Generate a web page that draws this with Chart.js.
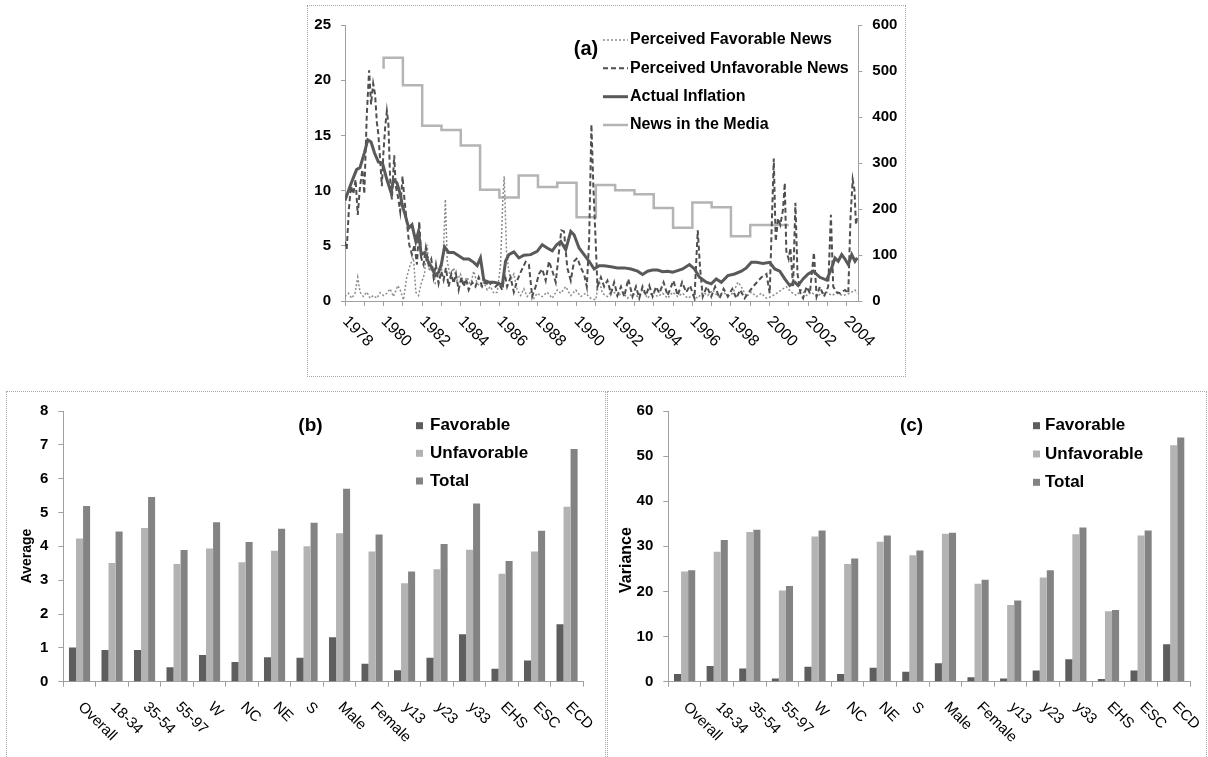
<!DOCTYPE html>
<html><head><meta charset="utf-8">
<script src="https://cdn.jsdelivr.net/npm/chart.js@4.4.1/dist/chart.umd.min.js"></script>
<style>
html,body{margin:0;padding:0;background:#fff;}
body{width:1208px;height:757px;position:relative;overflow:hidden;}
.box{position:absolute;border:1px dotted #a6a6a6;box-sizing:border-box;}
canvas{position:absolute;}
</style></head><body>
<div class="box" style="left:307px;top:5px;width:599px;height:372px"></div>
<div class="box" style="left:6px;top:391px;width:600px;height:372px"></div>
<div class="box" style="left:607px;top:391px;width:600px;height:372px"></div>
<canvas id="ca" width="597" height="370" style="left:308px;top:6px;width:597px;height:370px"></canvas>
<canvas id="cb" width="598" height="365" style="left:7px;top:392px;width:598px;height:365px"></canvas>
<canvas id="cc" width="598" height="365" style="left:608px;top:392px;width:598px;height:365px"></canvas>
<script>
// ---------------- Panel (a): time series [year, value] ----------------
const seriesNamesA = ['Perceived Favorable News','Perceived Unfavorable News','Actual Inflation','News in the Media'];
const yearLabelsA = [1978,1980,1982,1984,1986,1988,1990,1992,1994,1996,1998,2000,2002,2004];

const favorableNews = [[1978.00,0.4],[1978.17,0.7],[1978.35,0.25],[1978.52,0.7],[1978.66,2.15],[1978.78,0.8],[1978.95,0.4],[1979.13,0.8],[1979.30,0.25],[1979.47,0.5],[1979.65,0.25],[1979.82,0.75],[1979.99,0.5],[1980.17,0.7],[1980.34,1.1],[1980.51,0.4],[1980.74,1.4],[1980.86,1.0],[1981.03,0.1],[1981.20,2.15],[1981.38,3.3],[1981.55,3.9],[1981.67,0.8],[1981.81,0.5],[1981.95,1.6],[1982.12,2.45],[1982.25,5.1],[1982.37,2.7],[1982.50,3.3],[1982.68,1.6],[1982.85,1.85],[1982.99,2.45],[1983.10,4.5],[1983.20,9.2],[1983.30,3.6],[1983.46,2.15],[1983.63,3.0],[1983.80,1.85],[1983.98,2.45],[1984.15,1.7],[1984.33,2.15],[1984.50,1.4],[1984.67,2.7],[1984.85,1.6],[1985.02,1.3],[1985.19,1.7],[1985.37,1.0],[1985.54,1.3],[1985.71,0.7],[1985.89,0.8],[1986.06,3.3],[1986.18,9.2],[1986.25,11.3],[1986.37,4.5],[1986.47,3.0],[1986.58,1.85],[1986.75,2.45],[1986.92,1.0],[1987.10,0.5],[1987.27,1.1],[1987.44,0.4],[1987.62,0.8],[1987.79,0.25],[1987.96,0.7],[1988.22,0.4],[1988.48,0.8],[1988.74,0.25],[1989.00,1.0],[1989.18,0.7],[1989.44,1.3],[1989.70,0.5],[1989.96,1.0],[1990.22,0.4],[1990.47,0.7],[1990.73,0.25],[1990.99,0.1],[1991.17,1.85],[1991.34,0.7],[1991.60,0.4],[1991.86,1.0],[1992.12,0.4],[1992.38,0.8],[1992.64,0.25],[1992.90,0.7],[1993.16,0.4],[1993.42,1.0],[1993.68,0.25],[1993.94,0.8],[1994.20,0.4],[1994.46,0.7],[1994.72,0.25],[1994.98,0.8],[1995.24,0.4],[1995.50,0.7],[1995.76,0.25],[1996.02,0.5],[1996.28,0.25],[1996.54,0.8],[1996.80,0.5],[1997.06,1.0],[1997.32,0.4],[1997.58,0.8],[1997.84,0.5],[1998.10,0.7],[1998.36,1.7],[1998.54,1.3],[1998.80,0.4],[1999.06,0.8],[1999.32,0.4],[1999.58,0.7],[1999.84,0.25],[2000.10,0.4],[2000.36,0.7],[2000.62,1.0],[2000.87,1.3],[2001.13,0.8],[2001.39,0.5],[2001.65,1.0],[2001.92,0.5],[2002.18,0.8],[2002.44,0.4],[2002.70,0.7],[2002.96,0.8],[2003.22,0.5],[2003.48,0.7],[2003.82,0.5],[2004.17,0.7],[2004.43,1.0],[2004.55,0.7]];

const unfavorableNews = [[1978.00,5.4],[1978.09,4.7],[1978.20,8.3],[1978.31,10.4],[1978.43,9.7],[1978.55,11.0],[1978.66,7.8],[1978.78,10.4],[1978.90,11.9],[1979.00,9.7],[1979.13,16.9],[1979.25,20.9],[1979.35,17.8],[1979.46,19.7],[1979.56,18.7],[1979.65,16.2],[1979.73,15.1],[1979.82,12.8],[1979.91,10.4],[1979.99,13.4],[1980.08,15.7],[1980.17,17.2],[1980.25,16.0],[1980.34,11.0],[1980.43,9.2],[1980.55,13.2],[1980.63,10.4],[1980.74,9.5],[1980.86,8.1],[1980.98,11.3],[1981.08,9.2],[1981.20,7.2],[1981.33,5.1],[1981.47,4.2],[1981.60,5.1],[1981.73,3.3],[1981.85,7.2],[1981.95,3.9],[1982.07,3.3],[1982.19,4.8],[1982.33,3.3],[1982.47,3.8],[1982.59,2.15],[1982.71,3.3],[1982.85,1.6],[1982.99,2.7],[1983.11,1.9],[1983.23,3.0],[1983.37,1.3],[1983.51,2.45],[1983.63,1.6],[1983.75,2.45],[1983.89,1.0],[1984.03,2.15],[1984.15,1.3],[1984.27,2.0],[1984.41,1.0],[1984.59,1.7],[1984.76,1.3],[1984.93,2.15],[1985.11,1.3],[1985.28,1.7],[1985.45,1.4],[1985.63,1.7],[1985.80,1.3],[1985.97,1.6],[1986.15,1.0],[1986.28,2.45],[1986.40,1.3],[1986.58,2.15],[1986.75,0.8],[1986.92,1.85],[1987.10,2.6],[1987.36,3.55],[1987.53,3.3],[1987.70,0.4],[1987.88,1.3],[1988.05,2.45],[1988.22,2.9],[1988.40,1.85],[1988.57,3.6],[1988.74,2.75],[1988.92,1.7],[1989.09,4.5],[1989.21,6.4],[1989.35,6.3],[1989.52,3.0],[1989.70,1.85],[1989.87,3.6],[1990.04,3.9],[1990.22,3.0],[1990.39,2.45],[1990.53,1.3],[1990.65,5.4],[1990.77,16.0],[1990.87,10.4],[1990.99,5.4],[1991.08,1.3],[1991.26,2.15],[1991.43,1.3],[1991.60,1.85],[1991.78,0.7],[1991.95,1.7],[1992.12,0.5],[1992.30,1.3],[1992.47,0.4],[1992.68,2.0],[1992.90,0.4],[1993.08,1.3],[1993.25,0.25],[1993.42,1.3],[1993.60,0.5],[1993.77,1.4],[1993.94,0.4],[1994.12,1.3],[1994.29,0.7],[1994.51,1.7],[1994.72,0.5],[1994.90,1.3],[1995.02,1.85],[1995.24,0.5],[1995.47,1.7],[1995.68,0.8],[1995.88,1.4],[1996.11,0.25],[1996.28,6.4],[1996.40,3.0],[1996.54,0.4],[1996.75,1.3],[1996.98,0.4],[1997.18,1.3],[1997.41,0.25],[1997.62,1.1],[1997.84,0.4],[1998.07,1.1],[1998.28,0.25],[1998.48,1.0],[1998.71,0.25],[1998.93,0.8],[1999.14,1.3],[1999.35,1.7],[1999.58,2.15],[1999.84,2.45],[2000.01,0.7],[2000.10,6.0],[2000.22,12.9],[2000.32,5.4],[2000.44,7.5],[2000.56,6.9],[2000.70,8.3],[2000.79,10.7],[2000.87,4.5],[2000.99,3.8],[2001.08,4.8],[2001.22,1.3],[2001.34,8.9],[2001.45,2.45],[2001.60,0.7],[2001.74,0.25],[2001.92,1.3],[2002.09,0.7],[2002.30,4.4],[2002.44,0.4],[2002.61,1.3],[2002.82,0.4],[2003.04,1.3],[2003.18,7.8],[2003.30,1.3],[2003.48,0.8],[2003.65,0.7],[2003.91,1.0],[2004.08,0.7],[2004.20,7.75],[2004.31,11.0],[2004.40,10.1],[2004.48,6.9],[2004.55,7.75]];

const actualInflation = [[1978.00,9.1],[1978.26,10.4],[1978.43,11.15],[1978.60,11.9],[1978.78,12.1],[1979.00,13.4],[1979.18,14.6],[1979.35,14.4],[1979.53,13.4],[1979.73,12.6],[1979.94,12.5],[1980.17,11.0],[1980.39,9.8],[1980.51,11.0],[1980.69,10.7],[1980.86,9.7],[1980.98,8.6],[1981.12,7.8],[1981.30,6.6],[1981.47,6.9],[1981.67,5.4],[1981.81,6.3],[1981.95,4.2],[1982.12,4.4],[1982.30,3.6],[1982.50,3.0],[1982.68,2.3],[1982.85,2.6],[1982.99,3.3],[1983.16,4.9],[1983.37,4.4],[1983.63,4.4],[1983.89,4.1],[1984.15,3.8],[1984.41,3.8],[1984.67,3.5],[1984.85,3.2],[1985.02,3.9],[1985.19,1.9],[1985.45,1.7],[1985.71,1.7],[1985.97,1.6],[1986.15,1.4],[1986.32,3.6],[1986.49,4.2],[1986.75,4.45],[1987.01,3.9],[1987.27,4.15],[1987.62,4.2],[1987.96,4.5],[1988.22,5.1],[1988.48,4.8],[1988.74,4.55],[1988.97,5.1],[1989.18,5.4],[1989.44,4.65],[1989.70,6.3],[1989.87,6.0],[1990.13,4.8],[1990.39,4.2],[1990.65,3.6],[1990.91,2.9],[1991.17,3.2],[1991.43,3.2],[1991.78,3.1],[1992.12,3.0],[1992.47,3.0],[1992.82,2.9],[1993.16,2.7],[1993.42,2.4],[1993.68,2.7],[1993.94,2.8],[1994.20,2.8],[1994.46,2.65],[1994.72,2.7],[1994.98,2.6],[1995.16,2.7],[1995.50,2.9],[1995.85,3.3],[1996.11,2.9],[1996.37,2.15],[1996.72,1.7],[1996.98,1.55],[1997.24,2.0],[1997.50,1.7],[1997.84,2.3],[1998.19,2.45],[1998.54,2.7],[1998.80,3.0],[1999.06,3.5],[1999.32,3.5],[1999.66,3.4],[2000.01,3.5],[2000.27,2.9],[2000.53,2.7],[2000.79,2.0],[2001.05,1.4],[2001.31,1.7],[2001.48,1.4],[2001.74,2.0],[2002.00,2.45],[2002.26,2.7],[2002.61,2.15],[2002.96,1.9],[2003.22,3.0],[2003.39,3.9],[2003.56,3.6],[2003.74,4.2],[2003.91,3.8],[2004.08,3.3],[2004.26,4.2],[2004.43,3.6],[2004.55,3.9]];

const mediaNews = [[1980,505],[1981,529],[1982,469],[1983,381],[1984,372],[1985,338],[1986,242],[1987,225],[1988,273],[1989,248],[1990,257],[1991,182],[1992,252],[1993,241],[1994,232],[1995,202],[1996,159],[1997,214],[1998,204],[1999,141],[2000,165],[2001,165]];

// ---------------- Panels (b) and (c) ----------------
const categories = ['Overall','18-34','35-54','55-97','W','NC','NE','S','Male','Female','y13','y23','y33','EHS','ESC','ECD'];
const barSeriesNames = ['Favorable','Unfavorable','Total'];
const avgFavorable   = [1.01,0.94,0.94,0.43,0.79,0.58,0.72,0.71,1.31,0.53,0.34,0.71,1.40,0.38,0.63,1.70];
const avgUnfavorable = [4.23,3.51,4.54,3.48,3.94,3.53,3.87,4.00,4.39,3.85,2.91,3.32,3.90,3.19,3.85,5.17];
const avgTotal       = [5.19,4.44,5.46,3.89,4.71,4.13,4.52,4.70,5.70,4.35,3.26,4.07,5.27,3.57,4.46,6.88];
const varFavorable   = [1.7,3.5,2.9,0.7,3.3,1.7,3.1,2.2,4.1,1.0,0.7,2.5,5.0,0.6,2.5,8.3];
const varUnfavorable = [24.4,28.8,33.2,20.2,32.2,26.1,31.0,28.0,32.8,21.7,17.0,23.1,32.7,15.6,32.4,52.4];
const varTotal       = [24.7,31.4,33.7,21.2,33.5,27.3,32.4,29.1,33.0,22.6,18.0,24.7,34.2,15.9,33.5,54.1];

const FONT = "'Liberation Sans', Arial, Helvetica, sans-serif";
const AXIS = '#a0a0a0';
const toXY = arr => arr.map(p => ({x: p[0], y: p[1]}));

// ---------- panel (a) ----------
const decorA = {
  id: 'decorA',
  afterDraw(chart) {
    const c = chart.ctx, xs = chart.scales.x, area = chart.chartArea;
    c.save();
    c.fillStyle = '#000';
    c.font = '16px ' + FONT;
    c.textAlign = 'left'; c.textBaseline = 'middle';
    yearLabelsA.forEach(yr => {
      const px = xs.getPixelForValue(yr);
      c.save(); c.translate(px, area.bottom + 18); c.rotate(Math.PI / 4); c.fillText(String(yr), 0, 0); c.restore();
    });
    // panel letter
    c.font = 'bold 20px ' + FONT;
    c.textAlign = 'center';
    c.fillText('(a)', 278, 43);
    // legend
    const rows = [34, 62.3, 90.7, 119];
    c.font = 'bold 16px ' + FONT;
    c.textAlign = 'left';
    chart.data.datasets.forEach((ds, i) => {
      const y = rows[i];
      c.save();
      c.strokeStyle = ds.borderColor;
      c.lineWidth = ds.borderWidth;
      c.setLineDash(ds.borderDash || []);
      c.beginPath(); c.moveTo(295, y); c.lineTo(320, y); c.stroke();
      c.restore();
      c.fillStyle = '#000';
      c.fillText(ds.label, 322, y);
    });
    c.restore();
  }
};

new Chart(document.getElementById('ca'), {
  type: 'line',
  data: { datasets: [
    {label: seriesNamesA[0], data: toXY(favorableNews), borderColor: '#8c8c8c', borderWidth: 1.5, borderDash: [2, 2], pointRadius: 0, yAxisID: 'y', order: 3, tension: 0},
    {label: seriesNamesA[1], data: toXY(unfavorableNews), borderColor: '#4f4f4f', borderWidth: 2, borderDash: [5, 3], pointRadius: 0, yAxisID: 'y', order: 2, tension: 0},
    {label: seriesNamesA[2], data: toXY(actualInflation), borderColor: '#595959', borderWidth: 3, pointRadius: 0, yAxisID: 'y', order: 1, tension: 0},
    {label: seriesNamesA[3], data: toXY(mediaNews), borderColor: '#b4b4b4', borderWidth: 2.5, pointRadius: 0, stepped: 'after', yAxisID: 'y2', order: 4}
  ]},
  options: {
    responsive: false, animation: false, events: [],
    layout: {padding: {top: 12.3, left: 0, right: 0, bottom: 0}, autoPadding: false},
    plugins: {legend: {display: false}, tooltip: {enabled: false}},
    scales: {
      x: {type: 'linear', min: 1978, max: 2004.6,
          afterFit: s => { s.height = 75; },
          ticks: {display: false, stepSize: 1, includeBounds: false},
          grid: {display: true, drawOnChartArea: false, drawTicks: true, tickLength: 5, color: AXIS},
          border: {display: true, color: AXIS}},
      y: {position: 'left', min: 0, max: 25,
          afterFit: s => { s.width = 37; },
          ticks: {stepSize: 5, padding: 10, color: '#000', font: {family: FONT, size: 15, weight: 'bold'}},
          grid: {drawOnChartArea: false, tickLength: 4, color: AXIS},
          border: {display: true, color: AXIS}},
      y2: {position: 'right', min: 0, max: 600,
          afterFit: s => { s.width = 46.7; },
          ticks: {stepSize: 100, padding: 10, color: '#000', font: {family: FONT, size: 15, weight: 'bold'}},
          grid: {drawOnChartArea: false, tickLength: 4, color: AXIS},
          border: {display: true, color: AXIS}}
    }
  },
  plugins: [decorA]
});

// ---------- panels (b), (c) ----------
const BAR_COLORS = ['#5e5e5e', '#b3b3b3', '#838383'];

function makeDecor(letter, yTitle, titleX, titleY, legendSqX, legendTextX, legendRows) {
  return {
    id: 'decor' + letter,
    afterDraw(chart) {
      const c = chart.ctx, xs = chart.scales.x, area = chart.chartArea;
      c.save();
      c.fillStyle = '#000';
      c.font = '15px ' + FONT;
      c.textAlign = 'left'; c.textBaseline = 'middle';
      categories.forEach((lab, i) => {
        const px = xs.getPixelForValue(i);
        c.save(); c.translate(px + 1, area.bottom + 23); c.rotate(Math.PI / 4); c.fillText(lab, 0, 0); c.restore();
      });
      // axis title
      c.save();
      c.font = 'bold ' + (yTitle === 'Average' ? 14 : 16) + 'px ' + FONT;
      c.translate(titleX, titleY); c.rotate(-Math.PI / 2);
      c.textAlign = 'center'; c.fillText(yTitle, 0, 0);
      c.restore();
      // panel letter
      c.font = 'bold 19px ' + FONT;
      c.textAlign = 'center';
      c.fillText('(' + letter + ')', 303.5, 33.7);
      // legend
      c.font = 'bold 17px ' + FONT;
      c.textAlign = 'left';
      chart.data.datasets.forEach((ds, i) => {
        const y = legendRows[i];
        c.fillStyle = ds.backgroundColor;
        c.fillRect(legendSqX, y - 3.5, 7, 7);
        c.fillStyle = '#000';
        c.fillText(ds.label, legendTextX, y);
      });
      c.restore();
    }
  };
}

function makeBarChart(id, fav, unfav, total, maxY, step, yWidth, padRight, decor) {
  new Chart(document.getElementById(id), {
    type: 'bar',
    data: {
      labels: categories,
      datasets: [
        {label: barSeriesNames[0], data: fav, backgroundColor: BAR_COLORS[0]},
        {label: barSeriesNames[1], data: unfav, backgroundColor: BAR_COLORS[1]},
        {label: barSeriesNames[2], data: total, backgroundColor: BAR_COLORS[2]}
      ]
    },
    options: {
      responsive: false, animation: false, events: [],
      layout: {padding: {top: 12.3, left: 0, right: padRight, bottom: 0}, autoPadding: false},
      categoryPercentage: 0.65, barPercentage: 1.0,
      plugins: {legend: {display: false}, tooltip: {enabled: false}},
      scales: {
        x: {afterFit: s => { s.height = 75.3; },
            ticks: {display: false},
            grid: {display: true, offset: true, drawOnChartArea: false, drawTicks: true, tickLength: 5, color: AXIS},
            border: {display: true, color: AXIS}},
        y: {min: 0, max: maxY,
            afterFit: s => { s.width = yWidth; },
            ticks: {stepSize: step, padding: 10, color: '#000', font: {family: FONT, size: 15, weight: 'bold'}},
            grid: {drawOnChartArea: false, tickLength: 5, color: AXIS},
            border: {display: true, color: AXIS}}
      }
    },
    plugins: [decor]
  });
}

makeBarChart('cb', avgFavorable, avgUnfavorable, avgTotal, 8, 1, 56.3, 21.7,
  makeDecor('b', 'Average', 20.3, 164, 409, 423, [33.7, 61.3, 89]));
makeBarChart('cc', varFavorable, varUnfavorable, varTotal, 60, 10, 60.3, 16,
  makeDecor('c', 'Variance', 18.7, 168, 425, 437, [33.7, 62, 90.3]));
</script>
</body></html>
